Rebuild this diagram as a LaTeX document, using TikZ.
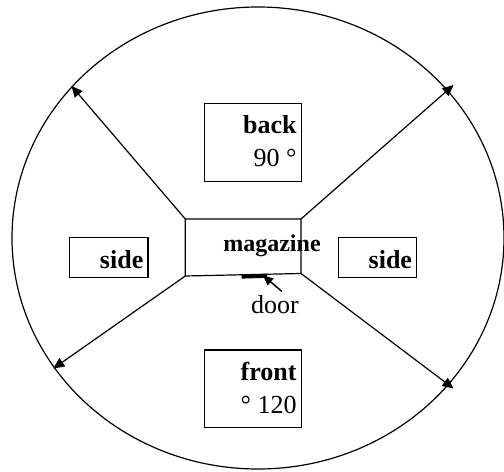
\documentclass[tikz,border=0pt]{standalone}
\usepackage{fontspec}
\setmainfont{Liberation Serif}
\usetikzlibrary{arrows.meta}
\tikzset{
  frame/.style={draw=black, line width=1.2bp, inner sep=0pt, outer sep=0pt},
  lbl/.style={inner sep=0pt, outer sep=0pt, anchor=base east, font=\fontsize{26bp}{30bp}\selectfont},
  blbl/.style={lbl, font=\fontsize{26bp}{30bp}\selectfont\bfseries},
  ray/.style={line width=1.2bp, -{Triangle[length=11bp,width=10bp]}},
}
\begin{document}
\begin{tikzpicture}[x=1bp,y=-1bp]
\useasboundingbox (0,0) rectangle (504,472);
% outer ellipse
\draw[line width=1.2bp] (258,238) ellipse [x radius=246, y radius=231];
% magazine
\coordinate (mTL) at (185.3,219);
\coordinate (mTR) at (301,219);
\coordinate (mBR) at (301,273.5);
\coordinate (mBL) at (185.3,276);
\draw[line width=1.2bp] (mTL) -- (mTR) -- (mBR) -- (mBL) -- cycle;
\node[inner sep=0pt, anchor=base, font=\fontsize{24bp}{28bp}\selectfont\bfseries] (mag) at (272,251.5) {magazine};
% boxes
\node[frame, minimum width=97.4bp, minimum height=78.4bp] (backbox) at (253,142.5) {};
\node[blbl] (backt) at (296.5,134) {back};
\node[lbl] (backa) at (296.5,166.5) {90 °};
\node[frame, minimum width=97.4bp, minimum height=77.3bp] (frontbox) at (253,388.6) {};
\node[blbl] (frontt) at (296.5,380) {front};
\node[lbl] (fronta) at (296.5,413) {° 120};
\node[frame, minimum width=78.3bp, minimum height=39.6bp] (lside) at (108.8,257.5) {};
\node[blbl] (lsidet) at (143.3,268.3) {side};
\node[frame, minimum width=78bp, minimum height=39.6bp] (rside) at (377.7,257.5) {};
\node[blbl] (rsidet) at (412,268.3) {side};
% rays
\coordinate (eTL) at (71.5,86);
\coordinate (eTR) at (453.5,85);
\coordinate (eBL) at (53.3,368.5);
\coordinate (eBR) at (453.5,388.5);
\draw[ray] (mTL) -- (eTL);
\draw[ray] (mTR) -- (eTR);
\draw[ray] (mBL) -- (eBL);
\draw[ray] (mBR) -- (eBR);
% door
\coordinate (d1) at (241.7,276.6);
\coordinate (d2) at (267,275.8);
\draw[line width=4bp] (d1) -- (d2);
\node[inner sep=0pt, anchor=base, font=\fontsize{26bp}{30bp}\selectfont] (door) at (275,313) {door};
\coordinate (dtail) at (282,291.5);
\coordinate (dtip) at (263,275.5);
\draw[line width=1.5bp, -{Triangle[length=10bp,width=9bp]}] (dtail) -- (dtip);
\end{tikzpicture}
\end{document}
